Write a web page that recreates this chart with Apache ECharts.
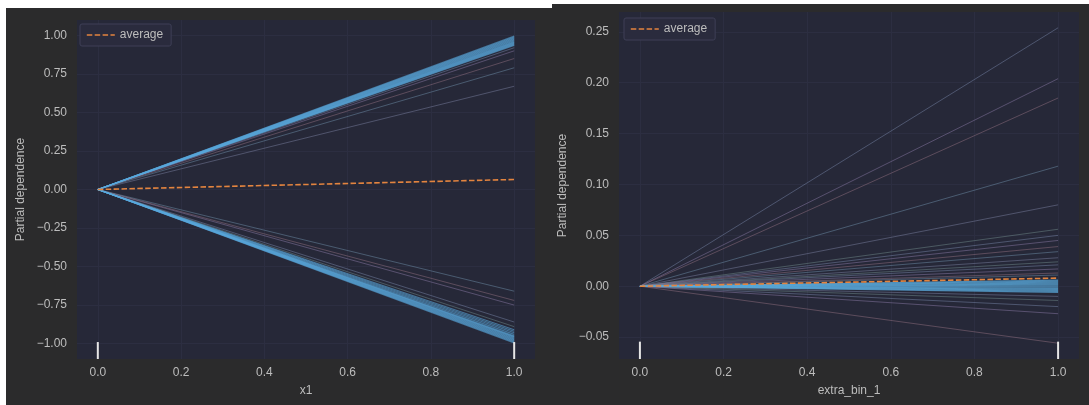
<!DOCTYPE html>
<html><head><meta charset="utf-8">
<script src="https://cdn.jsdelivr.net/npm/echarts@6/dist/echarts.min.js"></script>
<style>html,body{margin:0;padding:0;background:#fff}#c{width:1089px;height:405px}</style>
</head><body><div id="c"></div>
<script>
// ---- data ----
const xGrid = [0, 1];
const iceStart = 0;
// panel 1: x1
const x1BandEnds = [0.995, 0.99, 0.985, 0.98, 0.975, 0.97, 0.965, 0.96, 0.955, 0.95, 0.945, 0.94, 0.935,
                    -0.995, -0.99, -0.985, -0.98, -0.975, -0.97, -0.965, -0.96, -0.955, -0.95, -0.94, -0.93, -0.92, -0.91];
const x1OtherEnds = [0.92, 0.9, 0.85, 0.79, 0.67, -0.89, -0.86, -0.75, -0.72, -0.66];
const x1AverageEnd = 0.065;
const x1Deciles = [0, 1];
// panel 2: extra_bin_1
const bin1BandEnds = [0.006, 0.005, 0.004, 0.003, 0.002, 0.001, 0, -0.001, -0.002, -0.003, -0.004, -0.005, -0.006];
const bin1OtherEnds = [0.254, 0.204, 0.185, 0.118, 0.08, 0.056, 0.05, 0.045, 0.039, 0.034, 0.028, 0.024, 0.021,
                       0.017, 0.013, 0.011, -0.01, -0.014, -0.02, -0.027, -0.056];
const bin1AverageEnd = 0.008;
const bin1Deciles = [0, 1];
// ticks and labels
const xTicks = [0, 0.2, 0.4, 0.6, 0.8, 1.0];
const x1YTicks = [-1, -0.75, -0.5, -0.25, 0, 0.25, 0.5, 0.75, 1];
const bin1YTicks = [-0.05, 0, 0.05, 0.1, 0.15, 0.2, 0.25];
const xNames = ['x1', 'extra_bin_1'];
const yName = 'Partial dependence';
const legendName = 'average';

// ---- styling ----
const PANEL = '#2b2b2c';
const PLOT = '#262838';
const GRIDC = '#2c2e41';
const TXT = '#bdbdbd';
const AVG = '#e3843f';
const BAND = '#5aa9dc';
const FAINT = ['#7584a6', '#8a7aa6', '#927080', '#6d8ea8', '#7a7fa0', '#6f8a8a'];
const FONT = 'Liberation Sans, Arial, sans-serif';
const FS = 12;
const minus = s => s.replace('-', '\u2212');

const yRanges = [[-1.1, 1.1], [-0.0715, 0.2695]];

function iceSeries(ends, gi, colorFn, width, opacity, z) {
  return ends.map((v, i) => ({
    type: 'line', xAxisIndex: gi, yAxisIndex: gi, silent: true, symbol: 'none', z: z,
    data: xGrid.map((x, k) => [x, k === 0 ? iceStart : v]),
    lineStyle: { color: colorFn(i), width: width, opacity: opacity },
    emphasis: { disabled: true }, animation: false
  }));
}
function avgSeries(end, gi) {
  return {
    name: legendName, type: 'line', xAxisIndex: gi, yAxisIndex: gi, symbol: 'none', z: 10,
    data: xGrid.map((x, k) => [x, k === 0 ? iceStart : end]),
    lineStyle: { color: AVG, width: 1.6, type: [5.5, 2.4] }, itemStyle: { color: AVG },
    emphasis: { disabled: true }, animation: false
  };
}
function rugSeries(decs, gi) {
  const [lo, hi] = yRanges[gi];
  return decs.map(d => ({
    type: 'line', xAxisIndex: gi, yAxisIndex: gi, silent: true, symbol: 'none', z: 12,
    data: [[d, lo], [d, lo + 0.05 * (hi - lo)]],
    lineStyle: { color: '#e6e6e6', width: 2 }, animation: false
  }));
}
function xAxis(gi) {
  return {
    gridIndex: gi, type: 'value', min: -0.05, max: 1.05,
    axisLine: { show: false }, axisTick: { show: false, customValues: xTicks },
    axisLabel: { customValues: xTicks, color: TXT, fontSize: FS, fontFamily: FONT, margin: 8,
                 formatter: v => minus(v.toFixed(1)) },
    splitLine: { show: true, lineStyle: { color: GRIDC, width: 1 } },
    name: xNames[gi], nameLocation: 'middle', nameGap: 26,
    nameTextStyle: { color: TXT, fontSize: FS, fontFamily: FONT }
  };
}
function yAxis(gi, ticks) {
  return {
    gridIndex: gi, type: 'value', min: yRanges[gi][0], max: yRanges[gi][1],
    axisLine: { show: false }, axisTick: { show: false, customValues: ticks },
    axisLabel: { customValues: ticks, color: TXT, fontSize: FS, fontFamily: FONT, margin: 10,
                 formatter: v => minus(v.toFixed(2)) },
    splitLine: { show: true, lineStyle: { color: GRIDC, width: 1 } },
    name: yName, nameLocation: 'middle', nameGap: 50,
    nameTextStyle: { color: TXT, fontSize: FS, fontFamily: FONT }
  };
}
function legend(left, top) {
  return {
    left: left, top: top, data: [legendName], orient: 'vertical',
    backgroundColor: '#2a2b3d', borderColor: '#3e3f56', borderWidth: 1, borderRadius: 2,
    padding: [5, 8, 5, 6], itemWidth: 28, itemHeight: 12, itemGap: 4,
    itemStyle: { opacity: 0 },
    lineStyle: { color: AVG, width: 1.6, type: [5.5, 2.4] },
    textStyle: { color: TXT, fontSize: FS, fontFamily: FONT }, selectedMode: false
  };
}

const option = {
  backgroundColor: '#ffffff',
  animation: false,
  graphic: [
    { type: 'rect', z: -10, silent: true, shape: { x: 6, y: 8, width: 546, height: 397 }, style: { fill: PANEL } },
    { type: 'rect', z: -10, silent: true, shape: { x: 552, y: 4, width: 537, height: 401 }, style: { fill: PANEL } }
  ],
  grid: [
    { left: 77, top: 20, width: 458, height: 339, show: true, backgroundColor: PLOT, borderWidth: 0 },
    { left: 619, top: 12, width: 460, height: 347, show: true, backgroundColor: PLOT, borderWidth: 0 }
  ],
  legend: [legend(80, 24), legend(624, 18)],
  xAxis: [xAxis(0), xAxis(1)],
  yAxis: [yAxis(0, x1YTicks), yAxis(1, bin1YTicks)],
  series: [].concat(
    iceSeries(x1OtherEnds, 0, i => FAINT[i % FAINT.length], 1, 0.5, 2),
    iceSeries(x1BandEnds, 0, () => BAND, 1.2, 0.6, 3),
    [avgSeries(x1AverageEnd, 0)],
    rugSeries(x1Deciles, 0),
    iceSeries(bin1OtherEnds, 1, i => FAINT[i % FAINT.length], 1, 0.5, 2),
    iceSeries(bin1BandEnds, 1, () => BAND, 1.2, 0.7, 3),
    [avgSeries(bin1AverageEnd, 1)],
    rugSeries(bin1Deciles, 1)
  )
};
const chart = echarts.init(document.getElementById('c'), null, { renderer: 'canvas' });
chart.setOption(option);
</script></body></html>
